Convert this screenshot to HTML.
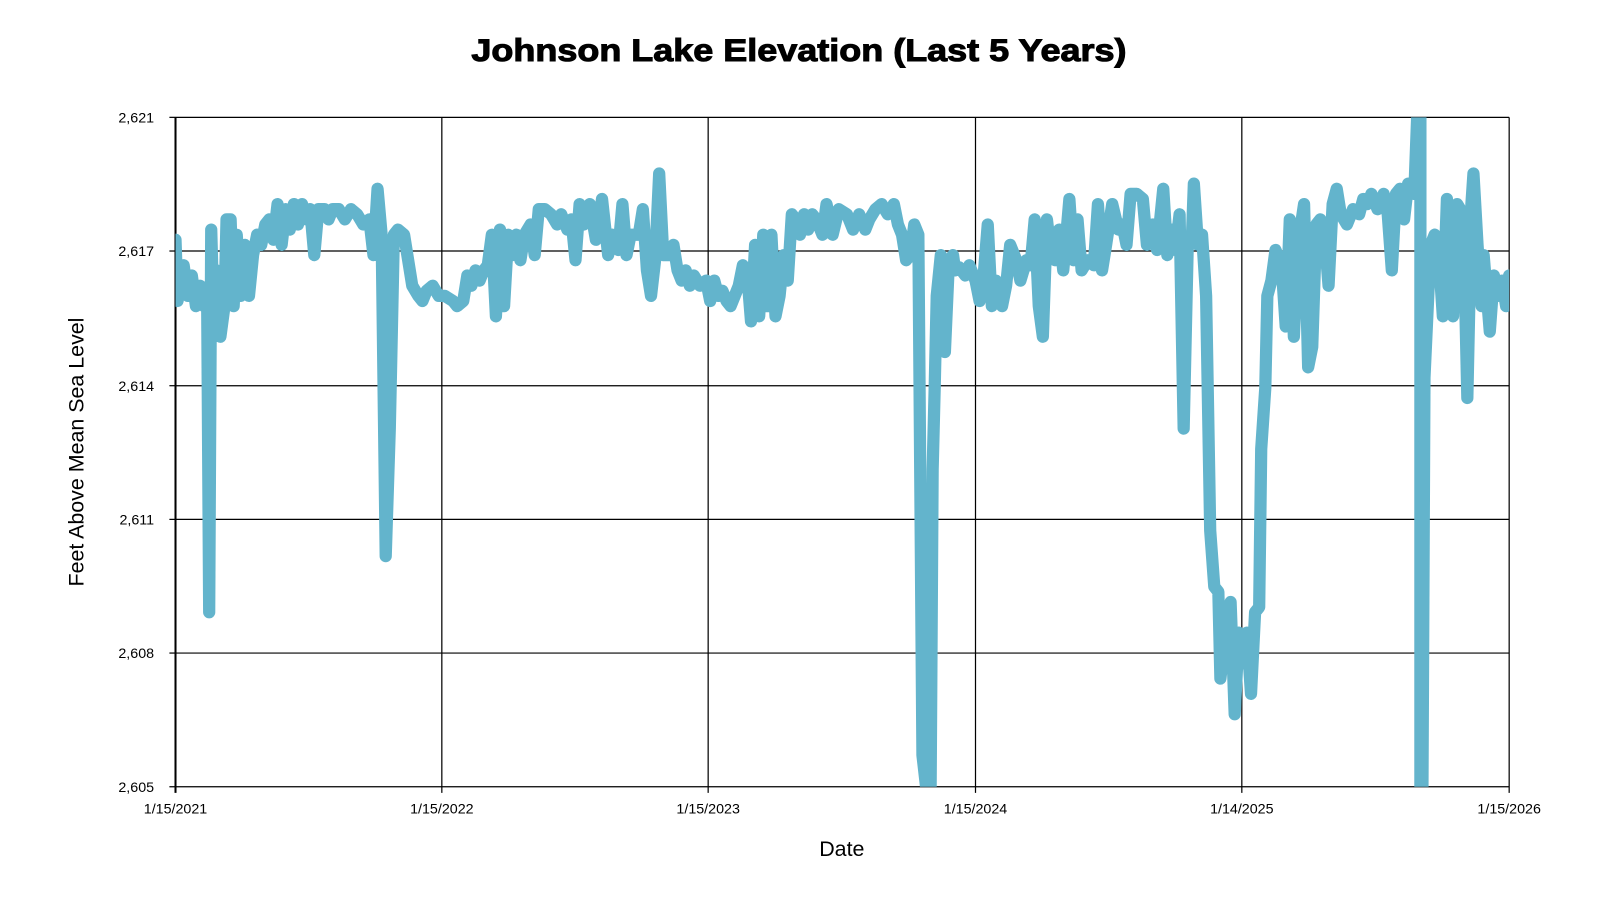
<!DOCTYPE html>
<html><head><meta charset="utf-8"><style>body{margin:0;background:#fff}svg{display:block}</style></head><body>
<svg width="1600" height="900" xmlns="http://www.w3.org/2000/svg" font-family="Liberation Sans, sans-serif">
<rect width="1600" height="900" fill="#fff"/>
<g transform="scale(1.0204)">
<text x="783" y="60" font-size="31" font-weight="bold" text-anchor="middle" stroke="#000" stroke-width="1" textLength="642" lengthAdjust="spacingAndGlyphs">Johnson Lake Elevation (Last 5 Years)</text>
<g stroke="#000" stroke-width="1.2">
<line x1="172" y1="115" x2="1479" y2="115"/><line x1="172" y1="246" x2="1479" y2="246"/><line x1="172" y1="378" x2="1479" y2="378"/><line x1="172" y1="509" x2="1479" y2="509"/><line x1="172" y1="640" x2="1479" y2="640"/><line x1="166" y1="771" x2="1479" y2="771"/>
<line x1="166" y1="115" x2="172" y2="115"/><line x1="166" y1="246" x2="172" y2="246"/><line x1="166" y1="378" x2="172" y2="378"/><line x1="166" y1="509" x2="172" y2="509"/><line x1="166" y1="640" x2="172" y2="640"/>
<line x1="433" y1="115" x2="433" y2="777"/><line x1="694" y1="115" x2="694" y2="777"/><line x1="956" y1="115" x2="956" y2="777"/><line x1="1217" y1="115" x2="1217" y2="777"/><line x1="1479" y1="115" x2="1479" y2="777"/>
<line x1="172" y1="115" x2="172" y2="777" stroke-width="2"/>
</g>
<g font-size="14" text-anchor="end">
<text x="151" y="120">2,621</text><text x="151" y="251">2,617</text><text x="151" y="383">2,614</text><text x="151" y="514">2,611</text><text x="151" y="645">2,608</text><text x="151" y="776">2,605</text>
</g>
<g font-size="14" text-anchor="middle">
<text x="172" y="797">1/15/2021</text><text x="433" y="797">1/15/2022</text><text x="694" y="797">1/15/2023</text><text x="956" y="797">1/15/2024</text><text x="1217" y="797">1/14/2025</text><text x="1479" y="797">1/15/2026</text>
</g>
<text x="825" y="839" font-size="21" text-anchor="middle">Date</text>
<text transform="translate(82,443) rotate(-90)" font-size="21" text-anchor="middle">Feet Above Mean Sea Level</text>
<clipPath id="c"><rect x="172" y="115" width="1307" height="656"/></clipPath>
<polyline clip-path="url(#c)" fill="none" stroke="#63b4cc" stroke-width="12" stroke-linejoin="round" stroke-linecap="round" points="172,235 174,295 180,260 184,290 188,270 192,300 196,280 200,300 203,290 205,600 207,225 209,300 212,265 216,330 220,300 222,215 226,215 229,300 232,230 236,290 240,240 244,290 248,250 252,230 256,240 260,220 264,215 268,235 272,200 276,240 280,205 284,225 288,200 292,220 296,200 300,215 304,205 308,250 312,205 318,205 322,215 326,205 332,205 338,215 344,205 350,210 356,220 362,215 366,250 370,185 374,230 378,545 382,420 386,230 390,225 396,230 400,255 404,280 410,290 414,295 418,285 424,280 430,290 436,290 444,295 448,300 454,295 458,270 462,280 466,265 470,275 474,265 478,260 482,230 486,310 490,225 494,300 498,230 502,250 506,230 510,255 514,230 520,220 524,250 528,205 534,205 540,210 546,220 550,210 556,225 560,215 564,255 568,200 572,220 578,200 584,235 590,195 596,250 600,230 606,245 610,200 614,250 618,230 626,230 630,205 634,265 638,290 642,255 646,170 650,250 656,250 660,240 664,265 668,275 672,265 676,280 680,270 686,280 692,275 696,295 700,275 704,290 708,285 712,295 716,300 720,290 724,280 728,260 732,265 736,315 740,240 744,310 748,230 752,300 756,230 760,310 764,290 768,250 772,275 776,210 780,215 784,230 788,210 792,225 796,210 800,215 806,230 810,200 816,230 822,205 830,210 836,225 842,210 848,225 852,215 858,205 864,200 870,210 876,200 880,220 884,230 888,255 892,250 896,220 900,230 904,740 908,775 912,775 914,460 916,380 918,290 922,250 926,345 930,255 934,250 936,265 940,262 946,270 950,260 956,275 960,295 964,270 968,220 972,300 976,275 982,300 986,280 990,240 996,255 1000,275 1006,255 1010,260 1014,215 1018,300 1022,330 1026,215 1030,250 1034,255 1038,225 1042,265 1048,195 1052,255 1056,215 1060,265 1066,255 1072,260 1076,200 1080,265 1084,240 1090,200 1096,225 1100,220 1104,240 1108,190 1114,190 1120,195 1124,240 1130,220 1134,245 1140,185 1144,250 1148,225 1152,245 1156,210 1160,420 1164,240 1168,235 1170,180 1174,240 1178,230 1182,290 1186,520 1190,575 1194,580 1196,665 1200,630 1204,650 1206,590 1210,700 1214,620 1218,650 1222,620 1226,680 1230,600 1234,595 1236,440 1240,380 1242,290 1246,275 1250,245 1256,260 1260,320 1264,215 1268,330 1272,240 1278,200 1282,360 1286,340 1290,220 1294,215 1298,230 1302,280 1306,200 1310,185 1314,210 1320,220 1326,205 1332,210 1336,195 1340,200 1344,190 1350,205 1356,190 1360,210 1364,265 1368,190 1372,185 1376,215 1380,180 1386,190 1389,110 1392,110 1392,775 1394,775 1396,370 1402,240 1406,230 1410,250 1414,310 1418,195 1420,260 1424,310 1428,200 1434,210 1438,390 1442,200 1444,170 1448,240 1452,300 1454,250 1460,325 1464,270 1468,290 1472,275 1476,300 1479,270"/>
</g>
</svg>
</body></html>
